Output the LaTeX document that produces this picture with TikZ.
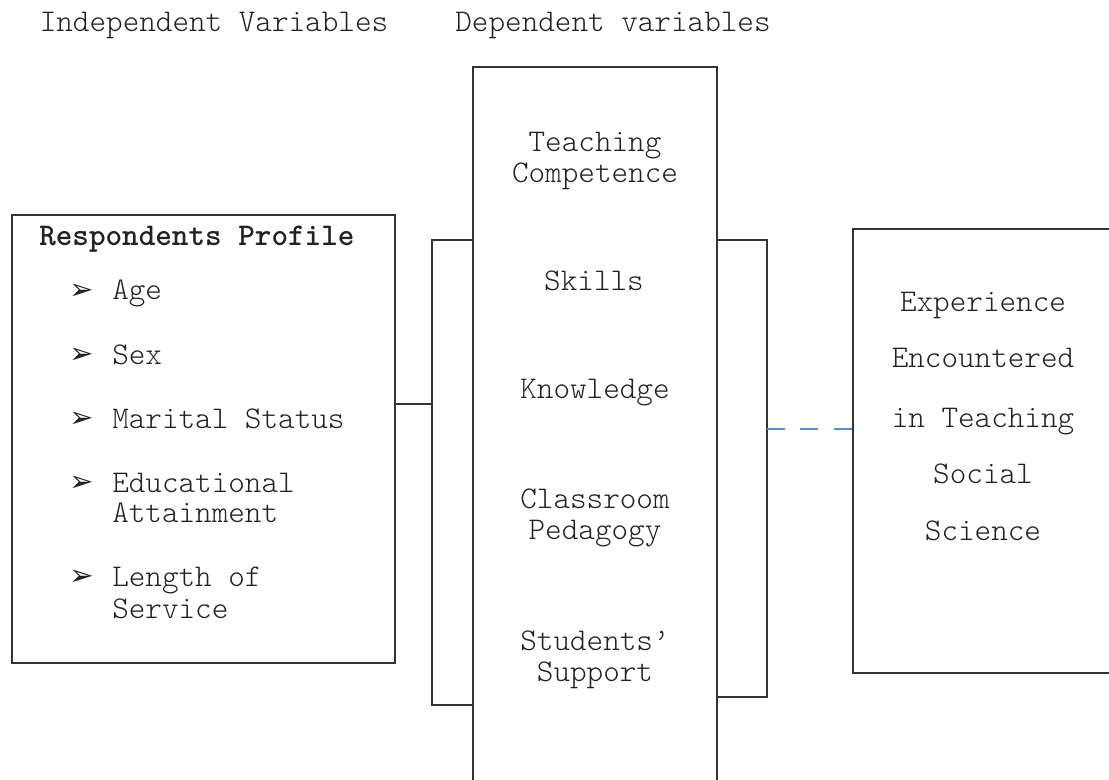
\documentclass[tikz,border=0pt]{standalone}
\usepackage{fontspec}
\setmainfont{lmmonolt10-regular.otf}[BoldFont=lmmonolt10-bold.otf]
\newfontfamily\dejavu{DejaVu Sans}
\definecolor{linec}{HTML}{333333}
\definecolor{textc}{HTML}{222222}
\definecolor{dashc}{HTML}{5B8BD0}
\begin{document}
\begin{tikzpicture}[x=0.75pt,y=-0.75pt,
  box/.style={draw=linec, line width=1.4pt, inner sep=0pt, fill=none},
  conn/.style={draw=linec, line width=1.4pt},
  dconn/.style={draw=dashc, line width=1.1pt, dash pattern=on 13.5pt off 11.5pt},
  txt/.style={font=\fontsize{23.7}{24}\selectfont, text=textc, inner sep=0pt, anchor=base},
  ltxt/.style={txt, anchor=base west},
  bul/.style={font=\dejavu\fontsize{22}{22}\selectfont, text=textc, inner sep=0pt, anchor=center}
]
\useasboundingbox (0,0) rectangle (1109,780);
\clip (0,0) rectangle (1109,780);
\fill[white] (0,0) rectangle (1109,780);

% headers
\node[txt] (hind) at (214,32) {Independent Variables};
\node[txt] (hdep) at (613,32) {Dependent variables};

% boxes
\node[box, minimum width=287.25pt, minimum height=336pt] (left) at (203.5,439) {};
\node[box, minimum width=183pt, minimum height=572.25pt] (mid) at (595,448.5) {};
\node[box, minimum width=215.25pt, minimum height=333pt] (right) at (996.5,451) {};

% left box content
\node[ltxt, font=\bfseries\fontsize{23.7}{24}\selectfont] (rp) at (39,246) {Respondents Profile};
\node[bul] (b1) at (82,292) {➢};
\node[ltxt] (age) at (112,300) {Age};
\node[bul] (b2) at (82,356) {➢};
\node[ltxt] (sex) at (112,364) {Sex};
\node[bul] (b3) at (82,420) {➢};
\node[ltxt] (mar) at (112,428) {Marital Status};
\node[bul] (b4) at (82,484) {➢};
\node[ltxt] (edu1) at (112,492) {Educational};
\node[ltxt] (edu2) at (112,522) {Attainment};
\node[bul] (b5) at (82,578) {➢};
\node[ltxt] (len1) at (112,586) {Length of};
\node[ltxt] (len2) at (112,618) {Service};

% middle box content
\node[txt] (tc1) at (595,152) {Teaching};
\node[txt] (tc2) at (595,183) {Competence};
\node[txt] (sk) at (594,291) {Skills};
\node[txt] (kn) at (595,398) {Knowledge};
\node[txt] (cp1) at (595,508) {Classroom};
\node[txt] (cp2) at (595,539) {Pedagogy};
\node[txt] (ss1) at (595,650) {Students’};
\node[txt] (ss2) at (595,681) {Support};

% right box content
\node[txt] (r1) at (983,312) {Experience};
\node[txt] (r2) at (983,368) {Encountered};
\node[txt] (r3) at (983,427) {in Teaching};
\node[txt] (r4) at (983,483) {Social};
\node[txt] (r5) at (983,540) {Science};

% connectors
\coordinate (lm) at (432,404);
\coordinate (lt) at (432,240);
\coordinate (lb) at (432,705);
\coordinate (rt) at (767,240);
\coordinate (rb) at (767,697);
\coordinate (rm) at (767,429);

\draw[conn] (left.east |- lm) -- (lm);
\draw[conn] (mid.west |- lt) -- (lt) -- (lb) -- (mid.west |- lb);
\draw[conn] (mid.east |- rt) -- (rt) -- (rb) -- (mid.east |- rb);
\draw[dconn] (rm) -- (right.west |- rm);
\end{tikzpicture}
\end{document}
